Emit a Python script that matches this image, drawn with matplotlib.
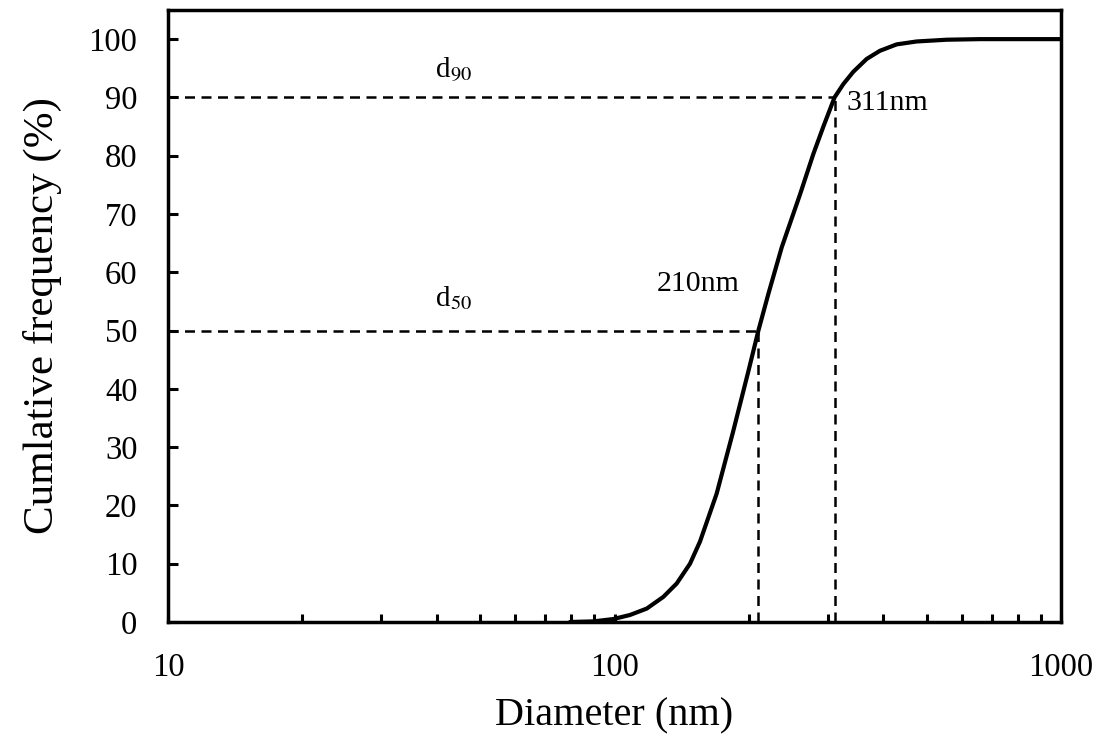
import numpy as np
import matplotlib
matplotlib.use("Agg")
import matplotlib.pyplot as plt
from matplotlib.ticker import FixedLocator, FixedFormatter, LogLocator, NullFormatter

plt.rcParams["font.family"] = ["Liberation Serif", "DejaVu Serif"]
plt.rcParams["mathtext.fontset"] = "stix"

# cumulative size distribution
diameter = [79.5, 89.7, 99.4, 108.3, 118.1, 128.6, 137.8, 147.6, 155.4, 169.3,
            184.1, 199.4, 210, 221.1, 236.9, 260.4, 278.8, 293.6, 311, 325.5,
            342.6, 367, 393, 428.5, 475, 555, 659, 1000]
cum_freq = [0.0, 0.1, 0.5, 1.2, 2.3, 4.3, 6.6, 10.0, 13.8, 22.0,
            32.5, 43.0, 50.0, 56.3, 64.3, 73.4, 80.3, 85.0, 90.0, 92.3,
            94.4, 96.6, 98.0, 99.1, 99.6, 99.9, 100.0, 100.0]

d50, d90 = 210, 311
x_ticks = [10, 100, 1000]
x_tick_labels = ["10", "100", "1000"]
y_ticks = list(range(0, 101, 10))

fig = plt.figure(figsize=(11.01, 7.40), dpi=100)
ax = fig.add_axes([0.1526, 0.1595, 0.8111, 0.827])

ax.plot(diameter, cum_freq, color="black", lw=3.0, solid_capstyle="round",
        solid_joinstyle="round")

# d50 / d90 guide lines
dash = dict(color="black", lw=1.8, ls=(0, (4, 2.6)))
ax.plot([10, d90], [90, 90], **dash)
ax.plot([d90, d90], [0, 90], **dash)
ax.plot([10, d50], [50, 50], **dash)
ax.plot([d50, d50], [0, 50], **dash)

ax.text(43.5, 94.7, r"d$_{90}$", fontsize=21, ha="center", va="center")
ax.text(43.5, 55.6, r"d$_{50}$", fontsize=21, ha="center", va="center")
ax.text(330, 89.0, "311nm", fontsize=21.5, ha="left", va="center")
ax.text(154, 58.0, "210nm", fontsize=21.5, ha="center", va="center")

ax.set_xscale("log")
ax.set_xlim(10, 1000)
ax.set_ylim(0, 105)
ax.xaxis.set_major_locator(FixedLocator(x_ticks))
ax.xaxis.set_major_formatter(FixedFormatter(x_tick_labels))
ax.xaxis.set_minor_locator(LogLocator(base=10, subs=np.arange(2, 10)))
ax.xaxis.set_minor_formatter(NullFormatter())
ax.set_yticks(y_ticks)

for s in ax.spines.values():
    s.set_linewidth(2.5)
ax.tick_params(axis="both", which="both", direction="in", width=2.2,
               top=False, right=False)
ax.tick_params(axis="x", which="both", length=6, pad=22, labelsize=23.5)
ax.tick_params(axis="y", which="major", length=7, pad=22, labelsize=23.5)

ax.set_xlabel("Diameter (nm)", fontsize=29, labelpad=10)
ax.set_ylabel("Cumlative frequency (%)", fontsize=31, labelpad=19)

fig.savefig("out.png", dpi=100)
